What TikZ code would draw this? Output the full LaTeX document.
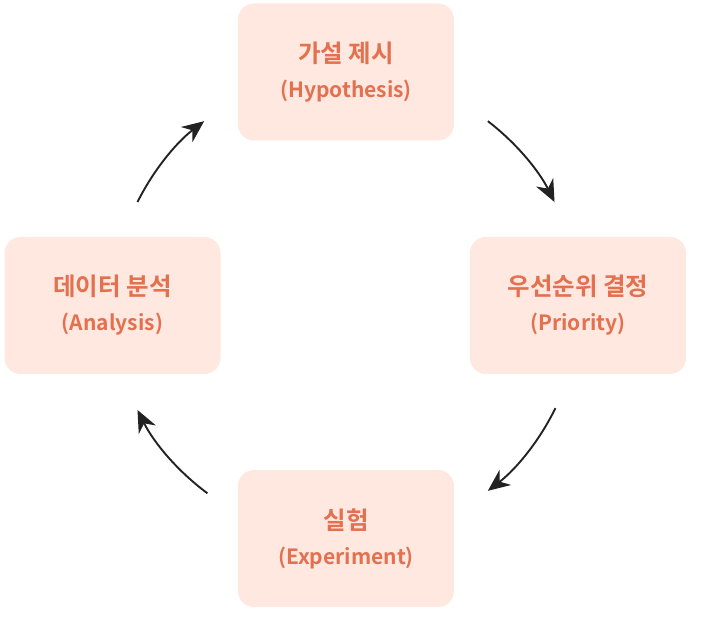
\documentclass[tikz,border=0pt]{standalone}
\usepackage{fontspec}
\setmainfont{Noto Sans CJK KR}[BoldFont={Noto Sans CJK KR Bold}]
\usetikzlibrary{arrows.meta}
\definecolor{boxfill}{HTML}{FEE8E0}
\definecolor{boxtext}{HTML}{E3704F}
\definecolor{arr}{HTML}{222222}
\newcommand{\kt}{\fontsize{24.5}{35}\selectfont}
\begin{document}
\begin{tikzpicture}[x=1pt,y=1pt,
  stagebox/.style={rectangle, rounded corners=16pt, fill=boxfill, draw=none,
    minimum width=216pt, minimum height=137pt, align=center, text=boxtext,
    font=\fontsize{21}{35}\selectfont\bfseries, inner sep=0pt},
  cyc/.style={draw=arr, line width=1.9pt, -{Stealth[length=22pt,width=19pt,inset=7pt]}}]
\useasboundingbox (0,0) rectangle (701,626);
\node[stagebox] (hyp) at (346,554) {{\kt 가설 제시}\\(Hypothesis)};
\node[stagebox] (pri) at (578,320.5) {{\kt 우선순위 결정}\\(Priority)};
\node[stagebox] (exp) at (346,87.5) {{\kt 실험}\\(Experiment)};
\node[stagebox] (ana) at (112.5,320.5) {{\kt 데이터 분석}\\(Analysis)};
\coordinate (c) at (346,320);
\draw[cyc] (c) ++(52.5:233) arc[start angle=52.5, end angle=26.5, radius=233];
\draw[cyc] (c) ++(-26:233) arc[start angle=-26, end angle=-52.5, radius=233];
\draw[cyc] (c) ++(-126.5:233) arc[start angle=-126.5, end angle=-153.5, radius=233];
\draw[cyc] (c) ++(153.5:233) arc[start angle=153.5, end angle=127.5, radius=233];
\end{tikzpicture}
\end{document}
